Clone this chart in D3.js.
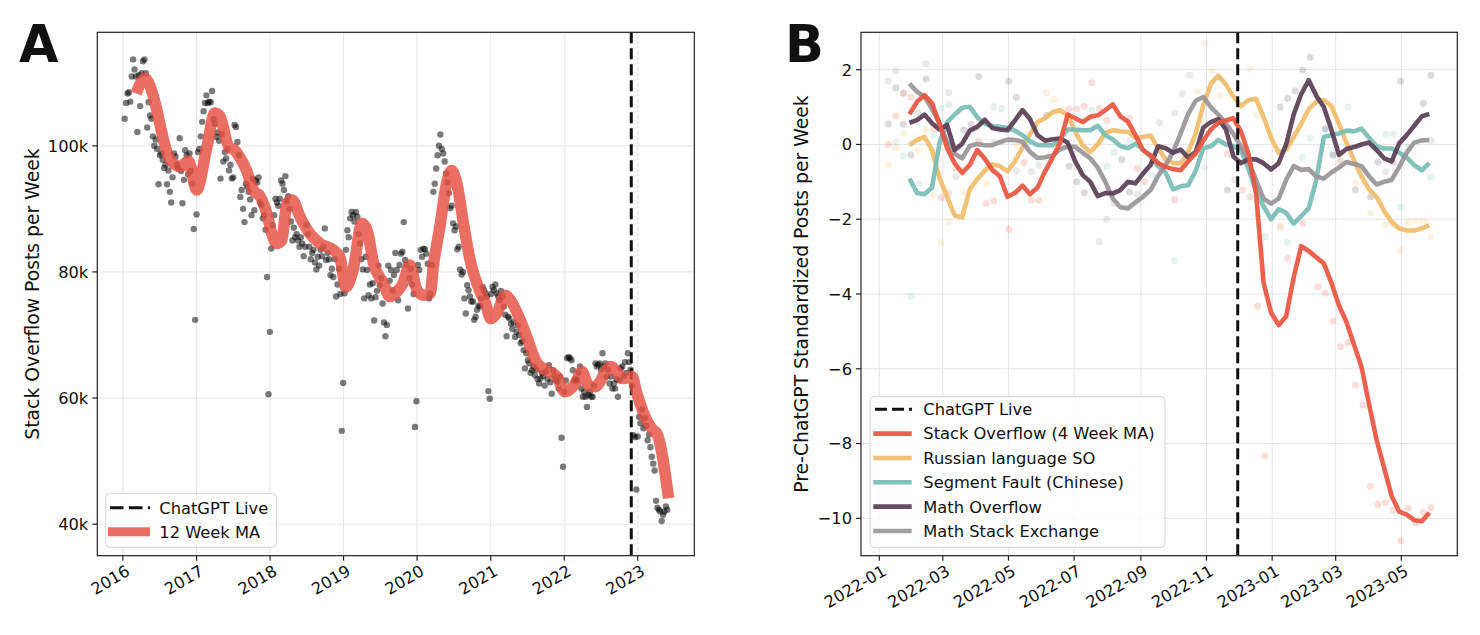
<!DOCTYPE html>
<html><head><meta charset="utf-8">
<script src="https://cdn.jsdelivr.net/npm/d3@7"></script>
<style>body{margin:0;background:#fff}svg text{font-family:"DejaVu Sans",sans-serif;fill:#111}</style>
</head><body><svg id="c" width="1480" height="635"></svg>
<script>
// ---------------- DATA : panel A (weekly Stack Overflow posts, thousands) ----------------
const postsStart = "2016-01-10";
const posts2016 = [104.3,106.8,108.3,108.5,107.0,111.0,113.7,112.1,111.0,102.2,111.2,106.3,111.5,113.4,113.7,111.5,102.9,106.9,104.8,104.3,101.5,100.0,101.0,99.5,93.9,98.5,98.8,97.8,96.5,97.0,93.9,96.1,92.7,91.0,95.0,98.8,98.3,97.0,96.5,101.2,96.0,90.9,94.6,99.3,98.5,95.5,98.8,96.0,94.0,86.8,72.4,89.1];
const posts2017 = [99.0,99.5,101.5,103.8,105.5,106.8,108.0,106.8,107.0,106.9,108.7,104.2,103.5,101.4,102.1,100.8,94.8,101.8,97.5,99.0,98.0,99.5,96.1,97.0,94.8,95.0,103.3,103.0,100.6,98.5,91.9,93.0,90.0,87.9,94.0,93.5,92.7,91.5,89.0,94.8,89.8,94.5,94.2,95.0,91.0,90.6,88.5,89.0,86.7,79.2,60.6,70.5];
const posts2018 = [83.7,87.4,89.0,91.6,91.0,90.5,91.6,94.5,94.0,93.0,95.2,91.2,92.0,90.0,88.0,85.0,87.0,85.5,86.0,85.0,84.0,85.5,84.5,82.5,84.0,87.5,86.0,84.0,82.0,83.0,83.5,81.5,80.4,82.4,81.0,83.5,82.5,84.0,86.9,81.9,83.0,82.0,79.5,80.5,79.2,82.0,76.1,78.0,80.5,76.5,54.8,62.4];
const posts2019 = [76.6,83.5,86.6,85.5,88.5,89.5,89.0,88.0,89.5,88.8,86.0,84.5,82.0,80.4,75.8,82.4,80.3,76.3,78.0,75.8,78.2,72.3,76.0,77.0,81.0,77.9,79.0,75.0,72.0,69.8,71.6,81.0,78.6,80.3,77.1,79.5,83.0,80.3,75.5,81.1,82.9,83.2,87.9,81.9,81.1,74.2,79.0,80.5,78.0,76.5,55.4,59.5];
const posts2020 = [81.1,80.3,83.5,82.4,83.7,83.6,82.9,81.3,75.8,76.5,81.1,92.7,94.0,96.4,98.5,100.0,101.8,99.5,98.8,97.5,95.6,94.2,92.5,90.1,90.5,87.7,86.6,87.2,83.6,84.0,80.4,79.6,80.0,75.8,73.4,77.9,77.1,76.1,75.3,75.3,72.4,72.9,74.0,74.7,74.5,75.8,77.6,77.1,76.6,76.1,61.1,59.9];
const posts2021 = [76.5,77.6,77.1,78.0,76.6,76.1,75.5,77.0,76.1,74.5,73.2,69.8,72.9,72.6,71.8,71.0,72.0,69.7,70.5,71.5,70.0,68.7,69.0,67.6,64.7,67.1,66.0,65.5,64.0,64.4,65.0,63.6,64.5,63.0,62.3,63.1,64.0,63.5,62.0,64.2,63.0,65.2,62.5,60.7,64.4,63.5,62.8,62.6,61.5,63.4,53.7,49.1];
const posts2022 = [61.0,62.8,66.3,66.5,66.3,66.0,64.4,62.8,63.0,62.8,64.0,65.0,61.5,60.2,61.0,60.2,58.6,60.5,61.0,60.2,60.2,62.0,65.5,65.0,65.3,65.5,64.5,67.1,65.0,65.5,63.4,64.5,62.3,63.4,61.5,62.3,61.5,63.0,60.2,62.8,64.7,65.0,63.5,65.7,64.0,67.1,65.7,64.5,62.0,54.1,53.8,45.5];
const posts2023 = [53.9,57.0,56.0,58.2,55.2,56.8,55.6,53.3,54.2,52.2,50.7,49.6,48.5,43.7,42.6,42.3,42.0,40.5,41.5,42.0,42.8,42.3];
// 12 week moving average (decimal year, thousands)
const maYears  = [2016.18,2016.30,2016.44,2016.53,2016.62,2016.78,2016.89,2017.00,2017.14,2017.25,2017.32,2017.44,2017.52,2017.57,2017.68,2017.77,2017.87,2017.95,2018.04,2018.09,2018.16,2018.23,2018.30,2018.41,2018.54,2018.68,2018.86,2018.95,2019.03,2019.13,2019.25,2019.32,2019.41,2019.54,2019.63,2019.72,2019.81,2019.90,2020.00,2020.09,2020.18,2020.22,2020.31,2020.40,2020.47,2020.54,2020.63,2020.72,2020.83,2020.93,2021.00,2021.08,2021.20,2021.27,2021.40,2021.49,2021.63,2021.76,2021.90,2022.01,2022.15,2022.24,2022.33,2022.42,2022.63,2022.81,2022.92,2022.99,2023.08,2023.21,2023.26,2023.42];
const maValues = [108.3,110.7,106.7,102.0,98.3,96.7,97.6,93.0,99.8,105.2,104.6,99.8,99.3,98.5,96.1,93.0,91.9,89.5,85.5,84.5,85.0,90.9,91.4,88.7,86.1,84.5,83.5,82.4,77.6,80.3,87.7,86.6,81.3,78.2,76.1,76.8,78.2,81.1,77.1,76.3,76.6,80.8,87.2,94.0,96.1,94.0,87.7,81.9,77.6,75.0,72.6,73.4,76.3,75.5,72.4,69.7,65.5,64.4,63.4,61.0,62.3,64.2,62.0,61.8,65.0,63.1,63.4,60.7,57.6,54.9,54.4,44.1];
const yTicksA = [40, 60, 80, 100];
const xTicksA = [2016, 2017, 2018, 2019, 2020, 2021, 2022, 2023];
const chatgptDate = "2022-11-30";
const legendA = ["ChatGPT Live", "12 Week MA"];

// ---------------- DATA : panel B (weekly, pre-ChatGPT standardized) ----------------
const weeksStartB = "2022-01-29";
const soMA = [0.81,1.14,1.32,1.10,0.55,-0.10,-0.50,-0.76,-0.55,-0.15,-0.38,-0.68,-0.85,-1.40,-1.30,-1.10,-1.33,-1.15,-0.72,-0.35,0.05,0.80,0.70,0.60,0.74,0.78,0.92,1.07,0.75,0.61,0.25,-0.15,-0.29,-0.50,-0.60,-0.66,-0.69,-0.45,-0.24,0.10,0.40,0.58,0.64,0.70,0.35,-0.25,-1.30,-3.70,-4.50,-4.83,-4.60,-3.55,-2.72,-2.85,-3.02,-3.18,-3.70,-4.30,-4.75,-5.35,-5.95,-6.95,-7.90,-8.65,-9.40,-9.82,-9.90,-10.05,-10.08,-9.85];
const ruSO = [-0.02,0.12,0.20,-0.15,-0.90,-1.40,-1.90,-1.95,-1.20,-0.93,-0.70,-0.53,-0.58,-0.72,-0.45,-0.08,0.27,0.60,0.70,0.86,0.92,0.78,0.35,-0.03,-0.20,0.00,0.32,0.38,0.35,0.34,0.18,0.20,0.24,-0.10,-0.40,-0.50,-0.51,-0.20,0.30,1.05,1.62,1.84,1.60,1.28,1.03,1.19,1.22,0.74,0.18,-0.22,-0.13,0.20,0.55,0.95,1.14,1.19,1.03,0.55,0.05,-0.42,-0.85,-1.20,-1.40,-1.78,-2.07,-2.25,-2.30,-2.30,-2.25,-2.16];
const segFault = [-0.91,-1.30,-1.33,-1.15,0.05,0.60,0.80,0.98,1.01,0.73,0.55,0.49,0.47,0.44,0.37,0.25,0.08,-0.01,-0.02,-0.02,0.15,0.40,0.40,0.38,0.38,0.50,0.25,0.13,-0.04,-0.10,0.02,-0.14,-0.32,-0.58,-0.75,-1.20,-1.12,-1.09,-0.70,-0.10,-0.05,0.12,0.00,-0.05,-0.15,-0.65,-1.25,-1.65,-2.00,-1.73,-1.83,-2.12,-1.92,-1.70,-0.95,0.20,0.25,0.29,0.37,0.35,0.42,0.18,-0.05,-0.11,-0.11,-0.22,-0.35,-0.55,-0.69,-0.50];
const mathOverflow = [0.58,0.65,0.80,0.57,0.40,0.52,-0.15,0.02,0.37,0.47,0.66,0.44,0.40,0.38,0.64,0.92,0.68,0.25,0.10,0.14,0.16,0.05,-0.45,-0.82,-1.00,-1.38,-1.30,-1.31,-1.22,-1.00,-1.04,-0.78,-0.55,-0.05,-0.10,-0.22,-0.14,-0.35,-0.20,0.45,0.60,0.68,0.40,-0.32,-0.50,-0.40,-0.40,-0.50,-0.67,-0.50,0.00,0.80,1.35,1.72,1.30,1.00,0.40,-0.28,-0.12,-0.07,0.00,0.05,-0.15,-0.37,-0.45,0.03,0.25,0.50,0.75,0.82];
const mathSE = [1.63,1.41,1.28,0.95,0.55,0.08,-0.25,-0.37,-0.04,0.01,-0.02,-0.02,0.06,0.13,0.12,0.07,-0.20,-0.36,-0.34,-0.30,-0.12,-0.06,-0.06,-0.22,-0.37,-0.62,-1.00,-1.45,-1.68,-1.71,-1.55,-1.40,-1.22,-0.84,-0.55,-0.20,0.30,0.82,1.17,1.27,1.00,0.80,0.56,0.28,-0.05,-0.45,-0.95,-1.45,-1.58,-1.45,-0.95,-0.58,-0.68,-0.66,-0.86,-0.91,-0.75,-0.62,-0.47,-0.52,-0.58,-0.85,-1.07,-1.00,-0.95,-0.60,-0.22,0.05,0.11,0.12];
// raw weekly values (faint dots): week index (relative to weeksStartB) and value
const soRawWeek  = [-3,-2,-1,0,3,4,5,6,9,10,11,13,15,16,17,21,22,23,24,25,26,29,30,31,35,42,44,45,46,47,49,50,52,54,55,56,57,58,59,60,61,62,63,64,65,66,67,68,69];
const soRawValue = [0.00,0.76,1.36,1.27,0.43,-1.42,-1.30,-0.64,0.10,-1.58,-1.51,-2.27,-0.48,-1.49,-1.50,0.95,0.95,1.02,1.65,0.96,0.65,0.70,-0.64,-1.00,-1.48,-0.25,-1.22,-1.40,-4.33,-8.33,-2.20,-3.05,-2.11,-3.81,-3.98,-4.72,-5.41,-5.30,-6.44,-6.97,-9.14,-9.63,-9.58,-9.78,-10.60,-9.73,-10.12,-9.84,-9.71];
const ruRawWeek  = [-3,-2,-1,1,2,3,4,5,7,10,14,18,19,20,38,39,40,41,45,46,54,57,59,61,63,64,65,66,67,68,69];
const ruRawValue = [-0.55,-0.09,0.30,-0.15,0.40,-1.36,-2.62,-2.07,-1.27,-1.05,0.00,1.38,1.20,0.87,1.41,2.70,1.99,1.30,2.03,0.78,1.41,-0.40,-1.03,-1.84,-2.14,-2.15,-2.83,-2.07,-2.05,-2.05,-2.47];
const sfRawWeek  = [-2,-1,0,1,3,4,5,11,12,24,26,27,29,32,35,39,46,47,50,52,53,55,56,58,63,64,65,69];
const sfRawValue = [0.07,-0.31,-4.06,-1.05,0.25,0.97,1.07,1.01,0.96,0.92,-0.58,-0.20,0.12,-0.82,-3.11,-0.60,-1.92,-2.47,-2.62,-0.35,0.17,0.38,-0.24,1.00,0.27,0.27,-1.67,-0.88];
const moRawWeek  = [-3,-2,-1,0,2,7,8,9,13,14,18,21,22,23,28,29,42,49,50,51,52,53,55,56,59,61,62,64,65,68,69];
const moRawValue = [0.55,1.52,0.54,-0.28,1.75,0.39,0.54,1.82,1.69,1.26,0.78,-0.58,-1.00,-1.29,-0.40,-1.27,-1.22,1.00,1.23,1.43,1.99,2.33,0.43,-0.29,-1.22,-1.40,-0.47,-0.47,1.69,1.10,1.85];
const mseRawWeek  = [-3,-2,-1,1,2,5,6,11,14,16,17,25,26,27,30,33,35,36,37,43,57,63,66,69];
const mseRawValue = [1.70,1.97,1.38,0.85,2.15,1.39,-0.86,0.07,-0.70,-0.73,-0.55,-2.60,-2.00,-1.58,-1.33,0.58,0.84,1.36,1.85,-0.95,-0.46,-0.73,-0.06,0.11];
const yTicksB = [-10, -8, -6, -4, -2, 0, 2];
const xTicksB = ["2022-01","2022-03","2022-05","2022-07","2022-09","2022-11","2023-01","2023-03","2023-05"];
const seriesNamesB = ["Stack Overflow (4 Week MA)","Russian language SO","Segment Fault (Chinese)","Math Overflow","Math Stack Exchange"];
const seriesColorsB = ["#e9553f","#f0bd6b","#78bdb6","#5a3f56","#9a9498"];

// ---------------- helpers ----------------
const svg = d3.select("#c");
const utc = s => new Date(s + "T00:00:00Z");
const weekly = (start, n) => d3.range(n).map(i => d3.utcDay.offset(utc(start), 7 * i));
function decYear(y){ const yr=Math.floor(y), s=Date.UTC(yr,0,1), e=Date.UTC(yr+1,0,1); return new Date(s+(y-yr)*(e-s)); }

function frame(g, P, xs, ys, xt, yt){
  const grid = g.append("g");
  xt.forEach(t => grid.append("line").attr("x1",xs(t)).attr("x2",xs(t)).attr("y1",P.t).attr("y2",P.b).attr("stroke","#e4e4e4").attr("stroke-width",1));
  yt.forEach(t => grid.append("line").attr("y1",ys(t)).attr("y2",ys(t)).attr("x1",P.l).attr("x2",P.r).attr("stroke","#e4e4e4").attr("stroke-width",1));
}
function axes(g, P, xs, ys, xt, yt, xfmt, yfmt){
  g.append("rect").attr("x",P.l).attr("y",P.t).attr("width",P.r-P.l).attr("height",P.b-P.t).attr("fill","none").attr("stroke","#222").attr("stroke-width",1.2);
  xt.forEach(t => {
    const x = xs(t);
    g.append("line").attr("x1",x).attr("x2",x).attr("y1",P.b).attr("y2",P.b+5).attr("stroke","#222").attr("stroke-width",1.2);
    g.append("text").attr("transform",`translate(${x+2},${P.b+8}) rotate(-30)`).attr("text-anchor","end").attr("dy","0.76em").attr("font-size",16.3).text(xfmt(t));
  });
  yt.forEach(t => {
    const y = ys(t);
    g.append("line").attr("x1",P.l-5).attr("x2",P.l).attr("y1",y).attr("y2",y).attr("stroke","#222").attr("stroke-width",1.2);
    g.append("text").attr("x",P.l-9).attr("y",y).attr("dy","0.36em").attr("text-anchor","end").attr("font-size",16.3).text(yfmt(t));
  });
}

// ---------------- PANEL A ----------------
const A = {l:97.3, t:32.3, r:694.3, b:555.7};
const xA = d3.scaleUtc().domain([utc("2015-08-27"), utc("2023-10-09")]).range([A.l, A.r]);
const yA = d3.scaleLinear().domain([35, 118]).range([A.b, A.t]);
const posts = [].concat(posts2016,posts2017,posts2018,posts2019,posts2020,posts2021,posts2022,posts2023);
const postDates = weekly(postsStart, posts.length);
const gA = svg.append("g");
const xTickDatesA = xTicksA.map(y => new Date(Date.UTC(y,0,1)));
frame(gA, A, xA, yA, xTickDatesA, yTicksA);
svg.append("clipPath").attr("id","clipA").append("rect").attr("x",A.l).attr("y",A.t).attr("width",A.r-A.l).attr("height",A.b-A.t);
const plotA = gA.append("g").attr("clip-path","url(#clipA)");
plotA.selectAll("circle").data(posts).join("circle")
  .attr("cx",(d,i)=>xA(postDates[i])).attr("cy",d=>yA(d)).attr("r",3.2).attr("fill","#000").attr("fill-opacity",0.52);
plotA.append("line").attr("x1",xA(utc(chatgptDate))).attr("x2",xA(utc(chatgptDate))).attr("y1",A.t).attr("y2",A.b)
  .attr("stroke","#111").attr("stroke-width",3).attr("stroke-dasharray","11,5");
plotA.append("path").datum(maYears.map((y,i)=>[decYear(y), maValues[i]]))
  .attr("d", d3.line().x(d=>xA(d[0])).y(d=>yA(d[1])).curve(d3.curveMonotoneX))
  .attr("fill","none").attr("stroke","#e54e3e").attr("stroke-opacity",0.82).attr("stroke-width",11.5).attr("stroke-linejoin","round");
axes(gA, A, xA, yA, xTickDatesA, yTicksA, d3.utcFormat("%Y"), d => d + "k");
gA.append("text").attr("transform",`translate(38.5,${(A.t+A.b)/2}) rotate(-90)`).attr("text-anchor","middle").attr("font-size",18.8).text("Stack Overflow Posts per Week");
svg.append("text").attr("x",19).attr("y",62).attr("font-size",51).attr("font-weight","bold").text("A");
// legend A
const lgA = gA.append("g");
lgA.append("rect").attr("x",105.7).attr("y",493.3).attr("width",170.6).attr("height",54).attr("rx",4)
  .attr("fill","#fff").attr("fill-opacity",0.8).attr("stroke","#d4d4d4");
lgA.append("line").attr("x1",110).attr("x2",150).attr("y1",507.7).attr("y2",507.7).attr("stroke","#111").attr("stroke-width",3).attr("stroke-dasharray","13.5,5.5");
lgA.append("line").attr("x1",108).attr("x2",150).attr("y1",531.7).attr("y2",531.7).attr("stroke","#e54e3e").attr("stroke-opacity",0.82).attr("stroke-width",9);
legendA.forEach((t,i)=> lgA.append("text").attr("x",159.3).attr("y",507.7+24*i).attr("dy","0.36em").attr("font-size",16.3).text(t));

// ---------------- PANEL B ----------------
const B = {l:861, t:32.3, r:1457.3, b:555.7};
const xB = d3.scaleUtc().domain([utc("2021-12-15"), utc("2023-06-22")]).range([B.l, B.r]);
const yB = d3.scaleLinear().domain([-11, 3]).range([B.b, B.t]);
const weeksB = weekly(weeksStartB, soMA.length);
const weekDate = j => d3.utcDay.offset(utc(weeksStartB), 7 * j);
const xTickDatesB = xTicksB.map(s => utc(s + "-01"));
const gB = svg.append("g");
frame(gB, B, xB, yB, xTickDatesB, yTicksB);
svg.append("clipPath").attr("id","clipB").append("rect").attr("x",B.l).attr("y",B.t).attr("width",B.r-B.l).attr("height",B.b-B.t);
const plotB = gB.append("g").attr("clip-path","url(#clipB)");
const rawB = [[soRawWeek,soRawValue],[ruRawWeek,ruRawValue],[sfRawWeek,sfRawValue],[moRawWeek,moRawValue],[mseRawWeek,mseRawValue]];
rawB.forEach(([wk, val], s) => {
  plotB.append("g").selectAll("circle").data(val).join("circle")
    .attr("cx",(d,i)=>xB(weekDate(wk[i]))+1.5).attr("cy",d=>yB(d)).attr("r",3.5)
    .attr("fill",seriesColorsB[s]).attr("fill-opacity",0.2);
});
const seriesB = [soMA, ruSO, segFault, mathOverflow, mathSE];
const lineB = d3.line().x((d,i)=>xB(weeksB[i])).y(d=>yB(d));
[1,2,4,3,0].forEach(s => {
  plotB.append("path").datum(seriesB[s]).attr("d", lineB).attr("fill","none")
    .attr("stroke", seriesColorsB[s]).attr("stroke-opacity",0.93).attr("stroke-width",4.6).attr("stroke-linejoin","round");
});
plotB.append("line").attr("x1",xB(utc(chatgptDate))).attr("x2",xB(utc(chatgptDate))).attr("y1",B.t).attr("y2",B.b)
  .attr("stroke","#111").attr("stroke-width",3).attr("stroke-dasharray","11,5");
axes(gB, B, xB, yB, xTickDatesB, yTicksB, d3.utcFormat("%Y-%m"), d3.format("d"));
gB.append("text").attr("transform",`translate(808,${(B.t+B.b)/2}) rotate(-90)`).attr("text-anchor","middle").attr("font-size",18.8).text("Pre-ChatGPT Standardized Posts per Week");
svg.append("text").attr("x",785).attr("y",62).attr("font-size",51).attr("font-weight","bold").text("B");
// legend B
const lgB = gB.append("g");
lgB.append("rect").attr("x",870).attr("y",396.7).attr("width",295).attr("height",150.6).attr("rx",4)
  .attr("fill","#fff").attr("fill-opacity",0.8).attr("stroke","#d4d4d4");
lgB.append("line").attr("x1",875).attr("x2",912).attr("y1",409.3).attr("y2",409.3).attr("stroke","#111").attr("stroke-width",3).attr("stroke-dasharray","12,5");
lgB.append("text").attr("x",923.3).attr("y",409.3).attr("dy","0.36em").attr("font-size",16.3).text("ChatGPT Live");
seriesNamesB.forEach((t,i)=>{
  const y = 433.6 + 24.35*i;
  lgB.append("line").attr("x1",873.3).attr("x2",911.7).attr("y1",y).attr("y2",y).attr("stroke",seriesColorsB[i]).attr("stroke-opacity",0.93).attr("stroke-width",4.6);
  lgB.append("text").attr("x",923.3).attr("y",y).attr("dy","0.36em").attr("font-size",16.3).text(t);
});
</script></body></html>
